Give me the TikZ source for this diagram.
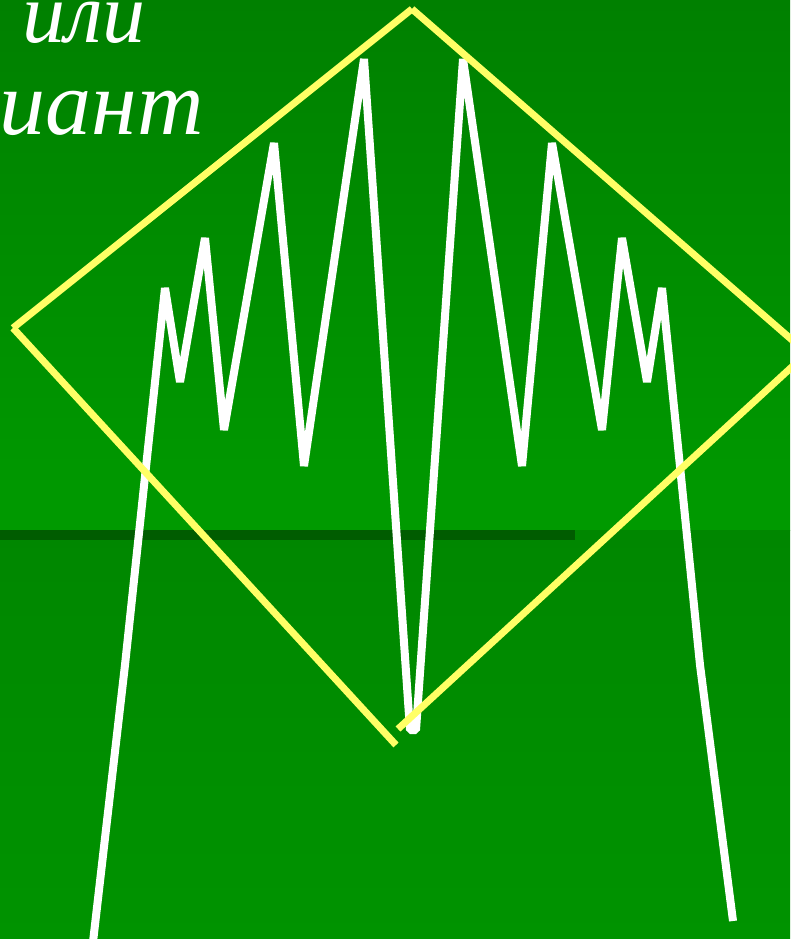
\documentclass[tikz,border=0pt]{standalone}
\usepackage{fontspec}
\newfontfamily\slidefont{Liberation Serif}
\usepackage{xcolor}
\definecolor{SlideTop}{HTML}{008000}
\definecolor{SlideMid}{HTML}{009A00}
\definecolor{SlideLow}{HTML}{008700}
\definecolor{SlideEnd}{HTML}{009300}
\definecolor{BandDark}{HTML}{005C00}
\definecolor{RayYellow}{HTML}{FFFF66}
\usepackage{tikz}
\usetikzlibrary{positioning}

\begin{document}
\begin{tikzpicture}[
  x=1pt, y=-1pt,
  wline/.style = {draw=white, line width=8pt, line join=bevel, line cap=butt},
  yline/.style = {draw=RayYellow, line width=7pt, line cap=butt},
  word/.style  = {font=\slidefont\itshape\fontsize{86}{92}\selectfont,
                  text=white, inner sep=0pt}
]
  \useasboundingbox (0,0) rectangle (790,939);

  % Background: two shaded halves and the dark band
  \shade[top color=SlideTop, bottom color=SlideMid] (0,0) rectangle (790,530);
  \shade[top color=SlideLow, bottom color=SlideEnd] (0,530) rectangle (790,939);
  \fill[BandDark] (0,530) rectangle (575,540);

  % Text in the top-left corner
  \node[word, anchor=base west] (ili) at (22,43) {или};
  \node[word, anchor=base east, font=\slidefont\itshape\fontsize{92}{92}\selectfont]
    (variant) at (204,135) {вариант};

  % Zigzag points
  \coordinate (w0) at (93,942);
  \coordinate (w1) at (125,665);
  \coordinate (w2) at (165,288);
  \coordinate (w3) at (180,382);
  \coordinate (w4) at (205,238);
  \coordinate (w5) at (224,430);
  \coordinate (w6) at (274,143);
  \coordinate (w7) at (304,466);
  \coordinate (w8) at (364,59);
  \coordinate (w9) at (410,730);
  \coordinate (w10) at (416,730);
  \coordinate (w11) at (463,59);
  \coordinate (w12) at (522,466);
  \coordinate (w13) at (552,143);
  \coordinate (w14) at (602,430);
  \coordinate (w15) at (622,238);
  \coordinate (w16) at (647,382);
  \coordinate (w17) at (662,288);
  \coordinate (w18) at (700,665);
  \coordinate (w19) at (733,921);

  % White zigzag
  \draw[wline] (w0) -- (w1) -- (w2) -- (w3) -- (w4) -- (w5) -- (w6) -- (w7)
    -- (w8) -- (w9) -- (w10) -- (w11) -- (w12) -- (w13) -- (w14) -- (w15)
    -- (w16) -- (w17) -- (w18) -- (w19);

  % Diamond corners
  \coordinate (ytop) at (412,9);
  \coordinate (yleft) at (13,328);
  \coordinate (yright) at (807,353);
  \coordinate (ybotl) at (396,745);
  \coordinate (ybotr) at (398,729);

  % Yellow diamond, drawn side by side
  \draw[yline] (yleft) -- (ytop);
  \draw[yline] (ytop) -- (yright);
  \draw[yline] (yleft) -- (ybotl);
  \draw[yline] (ybotr) -- (yright);

\end{tikzpicture}
\end{document}
